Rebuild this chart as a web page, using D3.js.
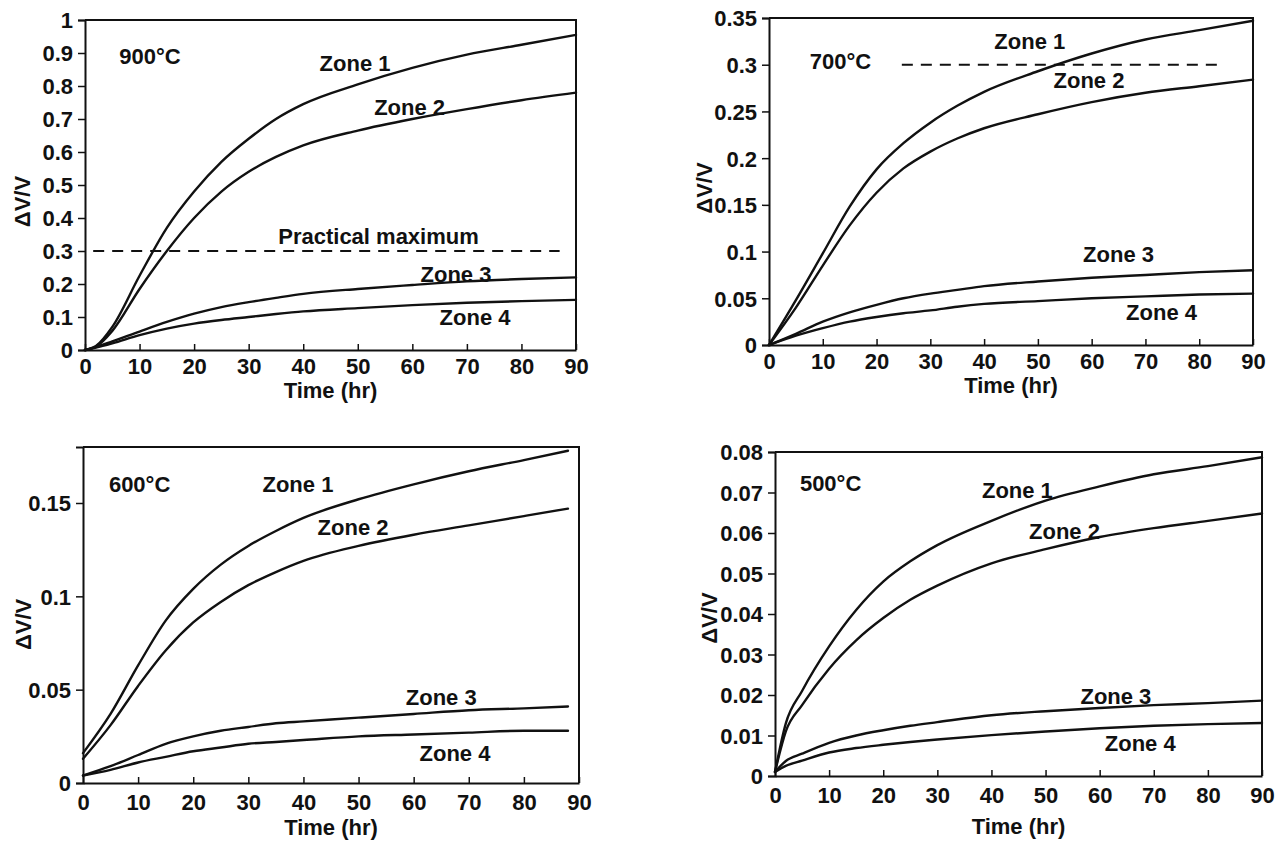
<!DOCTYPE html>
<html>
<head>
<meta charset="utf-8">
<script src="https://cdn.jsdelivr.net/npm/d3@7"></script>
<style>
  html, body { margin: 0; padding: 0; background: #fff; }
  svg { display: block; }
  text { font-family: "Liberation Sans", Arial, sans-serif; font-weight: bold; fill: #111; }
</style>
</head>
<body>
<svg id="chart" width="1282" height="843"></svg>
<script>
// Swelling ΔV/V vs. time for four zones at four temperatures

// ---- 900 °C ----
const time900 = [0, 2, 5, 10, 15, 20, 25, 30, 35, 40, 50, 60, 70, 80, 90];
const zone1_900 = [0, 0.012, 0.07, 0.225, 0.37, 0.48, 0.57, 0.64, 0.70, 0.745, 0.805, 0.855, 0.895, 0.925, 0.955];
const zone2_900 = [0, 0.01, 0.058, 0.185, 0.30, 0.40, 0.48, 0.54, 0.585, 0.62, 0.665, 0.70, 0.73, 0.757, 0.78];
const zone3_900 = [0, 0.009, 0.026, 0.056, 0.085, 0.11, 0.13, 0.145, 0.158, 0.17, 0.185, 0.197, 0.208, 0.215, 0.22];
const zone4_900 = [0, 0.007, 0.02, 0.045, 0.065, 0.08, 0.091, 0.10, 0.109, 0.117, 0.127, 0.136, 0.143, 0.148, 0.152];
const yTicks900 = [0, 0.1, 0.2, 0.3, 0.4, 0.5, 0.6, 0.7, 0.8, 0.9, 1];

// ---- 700 °C ----
const time700 = [0, 5, 10, 15, 20, 25, 30, 35, 40, 50, 60, 70, 80, 90];
const zone1_700 = [0, 0.048, 0.098, 0.148, 0.188, 0.216, 0.238, 0.256, 0.271, 0.293, 0.312, 0.327, 0.337, 0.347];
const zone2_700 = [0, 0.04, 0.085, 0.128, 0.163, 0.189, 0.207, 0.221, 0.232, 0.247, 0.26, 0.27, 0.277, 0.284];
const zone3_700 = [0, 0.012, 0.025, 0.035, 0.043, 0.05, 0.055, 0.059, 0.063, 0.068, 0.072, 0.075, 0.078, 0.08];
const zone4_700 = [0, 0.01, 0.018, 0.025, 0.03, 0.034, 0.037, 0.041, 0.044, 0.047, 0.05, 0.052, 0.054, 0.055];
const yTicks700 = [0, 0.05, 0.1, 0.15, 0.2, 0.25, 0.3, 0.35];

// ---- 600 °C ----
const time600 = [0, 5, 10, 15, 20, 25, 30, 35, 40, 50, 60, 70, 80, 88];
const zone1_600 = [0.016, 0.037, 0.063, 0.087, 0.104, 0.117, 0.127, 0.135, 0.142, 0.152, 0.16, 0.167, 0.173, 0.178];
const zone2_600 = [0.013, 0.031, 0.052, 0.071, 0.086, 0.097, 0.106, 0.113, 0.119, 0.127, 0.133, 0.138, 0.143, 0.147];
const zone3_600 = [0.004, 0.009, 0.015, 0.021, 0.025, 0.028, 0.030, 0.032, 0.033, 0.035, 0.037, 0.039, 0.040, 0.041];
const zone4_600 = [0.004, 0.007, 0.011, 0.014, 0.017, 0.019, 0.021, 0.022, 0.023, 0.025, 0.026, 0.027, 0.028, 0.028];
const yTicks600 = [0, 0.05, 0.1, 0.15];

// ---- 500 °C ----
const time500 = [0, 2, 5, 10, 15, 20, 25, 30, 40, 50, 60, 70, 80, 90];
const zone1_500 = [0.001, 0.013, 0.021, 0.032, 0.041, 0.048, 0.053, 0.057, 0.063, 0.068, 0.0715, 0.0745, 0.0765, 0.0787];
const zone2_500 = [0.001, 0.011, 0.0175, 0.0265, 0.0335, 0.039, 0.0435, 0.047, 0.0525, 0.056, 0.059, 0.0612, 0.063, 0.0648];
const zone3_500 = [0.001, 0.0037, 0.0055, 0.0082, 0.0100, 0.0113, 0.0124, 0.0133, 0.0150, 0.0160, 0.0168, 0.0175, 0.0180, 0.0186];
const zone4_500 = [0.001, 0.0025, 0.0038, 0.0058, 0.0069, 0.0077, 0.0084, 0.0090, 0.0101, 0.0110, 0.0118, 0.0124, 0.0128, 0.0131];
const yTicks500 = [0, 0.01, 0.02, 0.03, 0.04, 0.05, 0.06, 0.07, 0.08];

const xTicks = [0, 10, 20, 30, 40, 50, 60, 70, 80, 90];
const zoneNames = ["Zone 1", "Zone 2", "Zone 3", "Zone 4"];

// label anchors in data space: [time, value]
const labelPos900 = [[49.5, 0.87], [59.5, 0.735], [68, 0.23], [71.5, 0.098]];
const labelPos700 = [[48.5, 0.325], [59.5, 0.283], [65, 0.097], [73, 0.035]];
const labelPos600 = [[39, 0.16], [49, 0.137], [65, 0.0457], [67.5, 0.016]];
const labelPos500 = [[44.8, 0.0705], [53.5, 0.0605], [63, 0.0198], [67.5, 0.0080]];

// practical maximum reference line: [start time, end time, value]
const practicalMax900 = [1.5, 87, 0.3];
const practicalMax700 = [24.7, 84, 0.3];

const panels = [
  { title: "900°C", titleAt: [6.3, 0.89], time: time900, zones: [zone1_900, zone2_900, zone3_900, zone4_900],
    yMax: 1, yTicks: yTicks900, labels: labelPos900, dash: practicalMax900,
    dashLabel: "Practical maximum", dashLabelAt: [53.8, 0.345], yTitleAt: 0.45,
    box: { left: 85, right: 576, top: 20, bottom: 350 }, tickGap: 24, titleGap: 48, yTitleGap: 55 },
  { title: "700°C", titleAt: [7.6, 0.304], time: time700, zones: [zone1_700, zone2_700, zone3_700, zone4_700],
    yMax: 0.35, yTicks: yTicks700, labels: labelPos700, dash: practicalMax700, yTitleAt: 0.168,
    box: { left: 769, right: 1253, top: 18, bottom: 345 }, tickGap: 24, titleGap: 48, yTitleGap: 57 },
  { title: "600°C", titleAt: [4.7, 0.16], time: time600, zones: [zone1_600, zone2_600, zone3_600, zone4_600],
    yMax: 0.18, yTicks: yTicks600, labels: labelPos600, yTitleAt: 0.085,
    box: { left: 83, right: 579, top: 447, bottom: 783 }, tickGap: 27, titleGap: 52, yTitleGap: 52 },
  { title: "500°C", titleAt: [4.6, 0.0722], time: time500, zones: [zone1_500, zone2_500, zone3_500, zone4_500],
    yMax: 0.08, yTicks: yTicks500, labels: labelPos500, yTitleAt: 0.039,
    box: { left: 775, right: 1262, top: 452, bottom: 776 }, tickGap: 27, titleGap: 58, yTitleGap: 58 }
];

const svg = d3.select("#chart");
const FONT = 22;

panels.forEach(p => {
  const b = p.box;
  const x = d3.scaleLinear().domain([0, 90]).range([b.left, b.right]);
  const y = d3.scaleLinear().domain([0, p.yMax]).range([b.bottom, b.top]);
  const g = svg.append("g");

  // frame (top and right edges)
  g.append("path")
    .attr("d", `M${b.left},${b.top}H${b.right}V${b.bottom}`)
    .attr("fill", "none").attr("stroke", "#111").attr("stroke-width", 2);

  // y axis: ticks pointing outward
  const yAxis = d3.axisLeft(y).tickValues(p.yTicks).tickSize(7).tickPadding(5)
    .tickFormat(d => d3.format("~g")(d));
  const ya = g.append("g").attr("transform", `translate(${b.left},0)`).call(yAxis);
  ya.select(".domain").attr("stroke", "#111").attr("stroke-width", 2);
  ya.selectAll(".tick line").attr("stroke", "#111").attr("stroke-width", 1.5);
  ya.selectAll(".tick text").style("font-size", FONT + "px").attr("dy", "0.36em");

  // x axis: ticks pointing inward
  const xAxis = d3.axisBottom(x).tickValues(xTicks).tickSizeInner(-6).tickSizeOuter(0).tickPadding(0);
  const xa = g.append("g").attr("transform", `translate(0,${b.bottom})`).call(xAxis);
  xa.select(".domain").attr("stroke", "#111").attr("stroke-width", 2);
  xa.selectAll(".tick line").attr("stroke", "#111").attr("stroke-width", 1.5);
  xa.selectAll(".tick text").style("font-size", FONT + "px")
    .attr("y", p.tickGap).attr("dy", 0);

  // axis titles
  g.append("text")
    .attr("x", (b.left + b.right) / 2).attr("y", b.bottom + p.titleGap)
    .attr("text-anchor", "middle").style("font-size", FONT + "px")
    .text("Time (hr)");
  g.append("text")
    .attr("transform", `translate(${b.left - p.yTitleGap},${y(p.yTitleAt)}) rotate(-90)`)
    .attr("text-anchor", "middle").style("font-size", FONT + "px")
    .text("ΔV/V");

  // practical-maximum reference line
  if (p.dash) {
    g.append("line")
      .attr("x1", x(p.dash[0])).attr("x2", x(p.dash[1]))
      .attr("y1", y(p.dash[2])).attr("y2", y(p.dash[2]))
      .attr("stroke", "#111").attr("stroke-width", 2).attr("stroke-dasharray", "11,8");
  }
  if (p.dashLabel) {
    g.append("text")
      .attr("x", x(p.dashLabelAt[0])).attr("y", y(p.dashLabelAt[1]))
      .attr("text-anchor", "middle").attr("dy", "0.35em").style("font-size", FONT + "px")
      .text(p.dashLabel);
  }

  // zone curves
  const line = d3.line().x((d, i) => x(p.time[i])).y(d => y(d)).curve(d3.curveMonotoneX);
  p.zones.forEach(z => {
    g.append("path").attr("d", line(z))
      .attr("fill", "none").attr("stroke", "#111").attr("stroke-width", 2.4)
      .attr("stroke-linejoin", "round").attr("stroke-linecap", "round");
  });

  // zone labels
  p.labels.forEach((pos, i) => {
    g.append("text")
      .attr("x", x(pos[0])).attr("y", y(pos[1]))
      .attr("text-anchor", "middle").attr("dy", "0.35em").style("font-size", FONT + "px")
      .text(zoneNames[i]);
  });

  // temperature
  g.append("text")
    .attr("x", x(p.titleAt[0])).attr("y", y(p.titleAt[1]))
    .attr("dy", "0.35em").style("font-size", FONT + "px")
    .text(p.title);
});
</script>
</body>
</html>
